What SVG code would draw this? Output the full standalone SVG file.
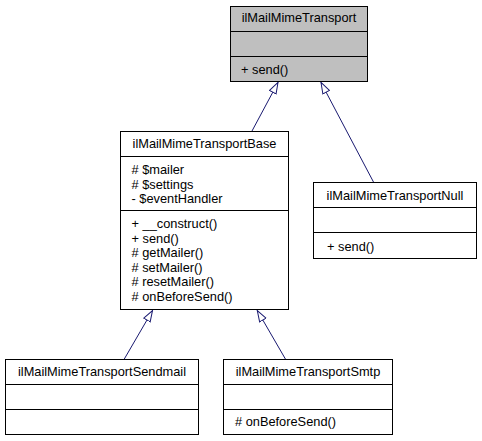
<svg xmlns="http://www.w3.org/2000/svg" width="482" height="441" viewBox="0 0 482 441">
<style>
text { font-family: "Liberation Sans", Arial, sans-serif; font-size: 12.8px; fill: #000; }
.t { text-anchor: middle; }
.box { fill: #fff; stroke: #000; stroke-width: 1; }
.cur { fill: #bfbfbf; stroke: #000; stroke-width: 1; }
.div { stroke: #000; stroke-width: 1; fill: none; }
.edge { stroke: #191970; stroke-width: 1; fill: none; marker-end: url(#tri); }
</style>
<defs>
<marker id="tri" markerUnits="userSpaceOnUse" markerWidth="13" markerHeight="10" refX="11.5" refY="4.5" orient="auto">
<path d="M0.5,0.8 L11.5,4.5 L0.5,8.2 z" fill="#fff" stroke="#191970" stroke-width="1"/>
</marker>
</defs>
<rect width="482" height="441" fill="#fff"/>
<g id="connectors">
<path class="edge" d="M252,131 L278,82.5"/>
<path class="edge" d="M374,183 L321,82.5"/>
<path class="edge" d="M124,359.5 L152.5,310.5"/>
<path class="edge" d="M285.7,359.5 L257.3,310.5"/>
</g>
<g id="ilMailMimeTransport">
<rect class="cur" x="230.5" y="6.5" width="137" height="75"/>
<path class="div" d="M230.5,31.5 H367.5 M230.5,56.5 H367.5"/>
<text class="t" x="299" y="22">ilMailMimeTransport</text>
<text x="241" y="73.5">+ send()</text>
</g>
<g id="ilMailMimeTransportBase">
<rect class="box" x="120.5" y="131.5" width="168" height="178"/>
<path class="div" d="M120.5,156.5 H288.5 M120.5,210.5 H288.5"/>
<text class="t" x="204.5" y="148">ilMailMimeTransportBase</text>
<text x="131.5" y="174"># $mailer</text>
<text x="131.5" y="188.5"># $settings</text>
<text x="131.5" y="203">- $eventHandler</text>
<text x="131.5" y="228">+ __construct()</text>
<text x="131.5" y="242.5">+ send()</text>
<text x="131.5" y="257"># getMailer()</text>
<text x="131.5" y="271.5"># setMailer()</text>
<text x="131.5" y="286"># resetMailer()</text>
<text x="131.5" y="300.5"># onBeforeSend()</text>
</g>
<g id="ilMailMimeTransportNull">
<rect class="box" x="313.5" y="182.5" width="163" height="76"/>
<path class="div" d="M313.5,207.5 H476.5 M313.5,232.5 H476.5"/>
<text class="t" x="395" y="199.5">ilMailMimeTransportNull</text>
<text x="327" y="250.5">+ send()</text>
</g>
<g id="ilMailMimeTransportSendmail">
<rect class="box" x="5.5" y="359.5" width="193" height="75"/>
<path class="div" d="M5.5,384.5 H198.5 M5.5,409.5 H198.5"/>
<text class="t" x="102" y="376">ilMailMimeTransportSendmail</text>
</g>
<g id="ilMailMimeTransportSmtp">
<rect class="box" x="223.5" y="359.5" width="169" height="75"/>
<path class="div" d="M223.5,384.5 H392.5 M223.5,409.5 H392.5"/>
<text class="t" x="308" y="375.5">ilMailMimeTransportSmtp</text>
<text x="235" y="426"># onBeforeSend()</text>
</g>
</svg>
